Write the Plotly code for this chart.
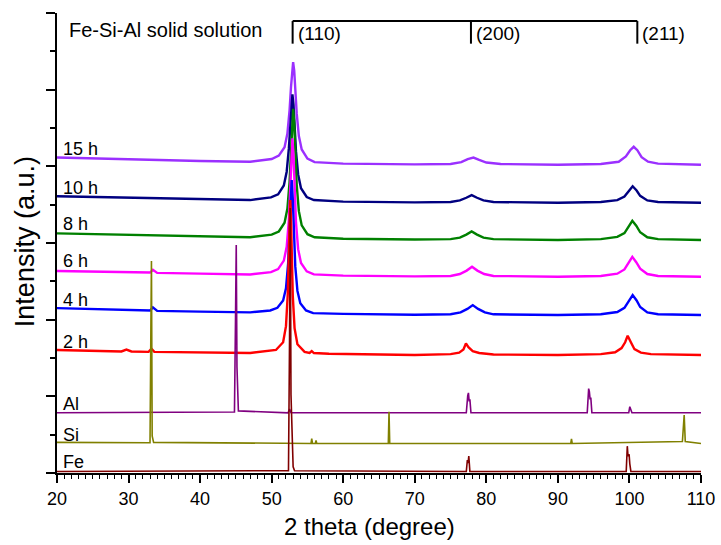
import plotly.graph_objects as go

# ---------------- data (intensity in a.u., relative to each pattern's own baseline) -------------
names = ["15 h", "10 h", "8 h", "6 h", "4 h", "2 h", "Al", "Si", "Fe"]
colors = ["#9B30FF", "#000080", "#008000", "#FF00FF", "#0000FF", "#FF0000",
          "#800080", "#808000", "#800000"]
offsets = [8.04, 7.05, 6.08, 5.12, 4.12, 3.08, 1.57, 0.77, 0.04]

x_15h = [20, 30, 40, 47, 50, 51.0, 51.8, 52.2, 52.5, 52.7, 52.85, 53.0, 53.15, 53.3, 53.5, 53.8, 54.2,
         55.0, 56.0, 60, 70, 75, 76.5, 77.4, 78.2, 79.0, 80.0, 82, 90, 96, 98.5, 99.5, 100.1, 100.6,
         101.1, 101.7, 102.6, 104, 110]
y_15h = [0.19, 0.14, 0.10, 0.08, 0.15, 0.24, 0.46, 0.82, 1.42, 2.03, 2.50, 2.68, 2.46, 1.97, 1.34, 0.75,
         0.40, 0.16, 0.07, 0.03, 0.01, 0.02, 0.07, 0.15, 0.19, 0.13, 0.06, 0.02, 0.00, 0.02, 0.08, 0.22,
         0.38, 0.47, 0.38, 0.20, 0.08, 0.03, 0.00]

x_10h = [20, 30, 40, 47, 49.9, 50.9, 51.7, 52.1, 52.4, 52.6, 52.75, 52.9, 53.05, 53.2, 53.4, 53.7, 54.1,
         54.9, 55.9, 60, 70, 75, 76.3, 77.2, 77.95, 78.7, 79.6, 81, 90, 96, 98.3, 99.3, 99.9, 100.45,
         101.0, 101.5, 102.5, 104, 110]
y_10h = [0.17, 0.13, 0.09, 0.07, 0.14, 0.22, 0.45, 0.81, 1.41, 2.09, 2.64, 2.83, 2.57, 2.02, 1.34, 0.74,
         0.38, 0.15, 0.07, 0.03, 0.01, 0.02, 0.06, 0.13, 0.20, 0.13, 0.06, 0.02, 0.00, 0.02, 0.07, 0.16,
         0.30, 0.43, 0.32, 0.18, 0.06, 0.02, 0.00]

x_8h = [20, 30, 40, 47, 50, 51, 51.8, 52.2, 52.5, 52.7, 52.85, 53.0, 53.15, 53.3, 53.5, 53.8, 54.2,
        55, 56, 60, 70, 75, 76.3, 77.2, 77.95, 78.7, 79.6, 81, 90, 96, 98.3, 99.3, 99.9, 100.4,
        100.95, 101.5, 102.5, 104, 110]
y_8h = [0.17, 0.13, 0.09, 0.07, 0.14, 0.22, 0.45, 0.82, 1.51, 2.35, 3.11, 3.42, 3.04, 2.28, 1.44, 0.75,
        0.38, 0.15, 0.07, 0.03, 0.01, 0.02, 0.06, 0.14, 0.22, 0.14, 0.06, 0.02, 0.00, 0.02, 0.08, 0.18,
        0.35, 0.50, 0.37, 0.20, 0.07, 0.02, 0.00]

x_6h = [20, 30, 33.0, 33.4, 34.0, 40, 47, 49.9, 50.9, 51.7, 52.1, 52.4, 52.6, 52.75, 52.9, 53.05, 53.2,
        53.4, 53.7, 54.1, 54.9, 55.9, 60, 70, 75, 76.3, 77.25, 78.0, 78.75, 79.7, 81, 90, 96, 98.3, 99.3,
        99.9, 100.4, 100.95, 101.5, 102.5, 104, 110]
y_6h = [0.15, 0.12, 0.11, 0.18, 0.10, 0.08, 0.06, 0.12, 0.20, 0.42, 0.78, 1.47, 2.37, 3.23, 3.61, 3.17,
        2.31, 1.41, 0.72, 0.36, 0.14, 0.06, 0.03, 0.01, 0.02, 0.07, 0.16, 0.26, 0.16, 0.07, 0.02, 0.00,
        0.02, 0.08, 0.19, 0.36, 0.52, 0.38, 0.21, 0.07, 0.02, 0.00]

x_4h = [20, 30, 33.0, 33.4, 34.0, 40, 47, 49.8, 50.8, 51.6, 52.0, 52.3, 52.5, 52.65, 52.8, 52.95, 53.1,
        53.3, 53.6, 54.0, 54.8, 55.8, 60, 70, 75, 76.4, 77.35, 78.1, 78.85, 79.8, 81, 90, 96, 98.3, 99.3,
        99.95, 100.45, 101.0, 101.5, 102.5, 104, 110]
y_4h = [0.18, 0.13, 0.12, 0.20, 0.11, 0.09, 0.07, 0.12, 0.19, 0.38, 0.70, 1.34, 2.22, 3.10, 3.52, 3.03,
        2.15, 1.27, 0.63, 0.31, 0.12, 0.05, 0.03, 0.01, 0.02, 0.07, 0.16, 0.26, 0.16, 0.07, 0.02, 0.00,
        0.02, 0.08, 0.19, 0.37, 0.52, 0.38, 0.21, 0.07, 0.02, 0.00]

x_2h = [20, 25, 29.0, 29.7, 30.4, 32.8, 33.2, 33.6, 40, 47, 50.6, 51.6, 52.0, 52.25, 52.4, 52.5, 52.6,
        52.7, 52.8, 52.95, 53.2, 53.6, 54.6, 55.3, 55.6, 55.9, 58, 65, 70, 75, 76.2, 76.8, 77.15, 77.5,
        78.1, 79, 81, 90, 96, 98.0, 98.9, 99.4, 99.75, 100.2, 100.7, 101.6, 103, 110]
y_2h = [0.13, 0.10, 0.09, 0.14, 0.09, 0.08, 0.16, 0.08, 0.06, 0.05, 0.13, 0.33, 0.75, 1.59, 2.69, 3.62,
        4.04, 3.57, 2.64, 1.54, 0.70, 0.28, 0.08, 0.05, 0.10, 0.05, 0.03, 0.01, 0.00, 0.02, 0.06, 0.14,
        0.30, 0.20, 0.10, 0.05, 0.01, 0.00, 0.02, 0.07, 0.18, 0.33, 0.50, 0.33, 0.15, 0.06, 0.02, 0.00]

x_al = [20, 44.8, 44.95, 45.05, 45.15, 45.35, 52.3, 52.5, 52.7, 77.2, 77.4, 77.5, 77.6, 77.7, 77.85,
        94.1, 94.3, 94.4, 94.5, 94.6, 94.75, 99.9, 100.05, 100.2, 100.35, 110]
y_al = [0.00, 0.02, 2.50, 4.38, 1.20, 0.05, 0.00, 0.10, 0.00, 0.00, 0.45, 0.52, 0.30, 0.35, 0.00,
        0.00, 0.63, 0.55, 0.35, 0.40, 0.00, 0.00, 0.16, 0.10, 0.00, 0.00]

x_si = [20, 33.0, 33.12, 33.2, 33.3, 33.5, 55.5, 55.6, 55.7, 56.1, 56.2, 56.3, 66.3, 66.4, 66.5,
        91.8, 91.9, 92.0, 107.4, 107.55, 107.65, 107.8, 110]
y_si = [0.03, 0.02, 3.00, 4.76, 0.20, 0.03, 0.00, 0.13, 0.00, 0.00, 0.08, 0.00, 0.00, 0.83, 0.00,
        0.00, 0.12, 0.00, 0.05, 0.40, 0.74, 0.05, 0.00]

x_fe = [20, 52.35, 52.5, 52.6, 52.7, 52.9, 53.0, 53.2, 77.2, 77.35, 77.45, 77.55, 77.7,
        99.55, 99.7, 99.8, 99.95, 100.05, 100.2, 110]
y_fe = [0.00, 0.02, 3.50, 6.87, 2.00, 0.15, 0.12, 0.02, 0.00, 0.30, 0.22, 0.40, 0.00,
        0.00, 0.66, 0.40, 0.45, 0.20, 0.00, 0.00]

xs = [x_15h, x_10h, x_8h, x_6h, x_4h, x_2h, x_al, x_si, x_fe]
ys = [y_15h, y_10h, y_8h, y_6h, y_4h, y_2h, y_al, y_si, y_fe]

hkl_labels = ["(110)", "(200)", "(211)"]
hkl_pos = [52.93, 77.85, 101.1]

# ---------------- figure -------------
FONT = "Liberation Sans, Arial, sans-serif"
fig = go.Figure()
for i, (n, c, off, xv, yv) in enumerate(zip(names, colors, offsets, xs, ys)):
    thick = i < 6
    fig.add_trace(go.Scatter(
        x=xv, y=[v + off for v in yv], mode="lines", name=n,
        line=dict(color=c, width=2.4 if thick else 1.6),
        showlegend=False, hoverinfo="skip"))

# series labels
label_y = [8.46, 7.43, 6.49, 5.53, 4.52, 3.43, 1.81, 0.99, 0.28]
for n, ly in zip(names, label_y):
    fig.add_annotation(x=20.6, y=ly, xref="x", yref="y", text=n, showarrow=False,
                       xanchor="left", yanchor="middle", font=dict(family=FONT, size=18, color="black"))

fig.add_annotation(x=21.45, y=11.56, xref="x", yref="y", text="Fe-Si-Al solid solution",
                   showarrow=False, xanchor="left", yanchor="middle",
                   font=dict(family=FONT, size=20, color="black"))

# hkl bracket
y_bar, y_foot = 11.79, 11.20
fig.add_shape(type="line", xref="x", yref="y", x0=hkl_pos[0], x1=hkl_pos[-1], y0=y_bar, y1=y_bar,
              line=dict(color="black", width=2))
for p, lab in zip(hkl_pos, hkl_labels):
    fig.add_shape(type="line", xref="x", yref="y", x0=p, x1=p, y0=y_bar, y1=y_foot,
                  line=dict(color="black", width=2))
    fig.add_annotation(x=p, y=11.47, xref="x", yref="y", text=lab, showarrow=False,
                       xanchor="left", yanchor="middle", xshift=3,
                       font=dict(family=FONT, size=19, color="black"))

# axis titles
fig.add_annotation(x=0.486, y=-0.1166, xref="paper", yref="paper", text="2 theta (degree)",
                   showarrow=False, xanchor="center", yanchor="middle",
                   font=dict(family=FONT, size=24, color="black"))
fig.add_annotation(x=-0.0497, y=0.504, xref="paper", yref="paper", text="Intensity (a.u.)",
                   showarrow=False, xanchor="center", yanchor="middle", textangle=-90,
                   font=dict(family=FONT, size=27, color="black"))

fig.update_layout(
    width=721, height=545,
    margin=dict(l=57, r=20, t=13, b=72, autoexpand=False),
    paper_bgcolor="white", plot_bgcolor="white",
    font=dict(family=FONT, color="black"),
    xaxis=dict(range=[20, 110], tick0=20, dtick=10, ticks="outside", ticklen=8, tickwidth=1.5,
               tickcolor="black", showline=True, linecolor="black", linewidth=2, automargin=False,
               showgrid=False, zeroline=False, tickfont=dict(family=FONT, size=18, color="black"),
               minor=dict(ticks="outside", ticklen=4, tickwidth=1, dtick=1, tickcolor="black",
                          showgrid=False)),
    yaxis=dict(range=[0, 12], tick0=0, dtick=2, ticks="outside", ticklen=9, tickwidth=1.5,
               tickcolor="black", showline=True, linecolor="black", linewidth=2, automargin=False,
               showgrid=False, zeroline=False, showticklabels=False,
               minor=dict(ticks="outside", ticklen=5, tickwidth=1.5, dtick=1, tickcolor="black",
                          showgrid=False)),
)

fig.write_html("out.html", config={"displayModeBar": False},
               post_script="document.body.style.margin='0';document.body.style.padding='0';"
                           "document.body.style.overflow='hidden';")
